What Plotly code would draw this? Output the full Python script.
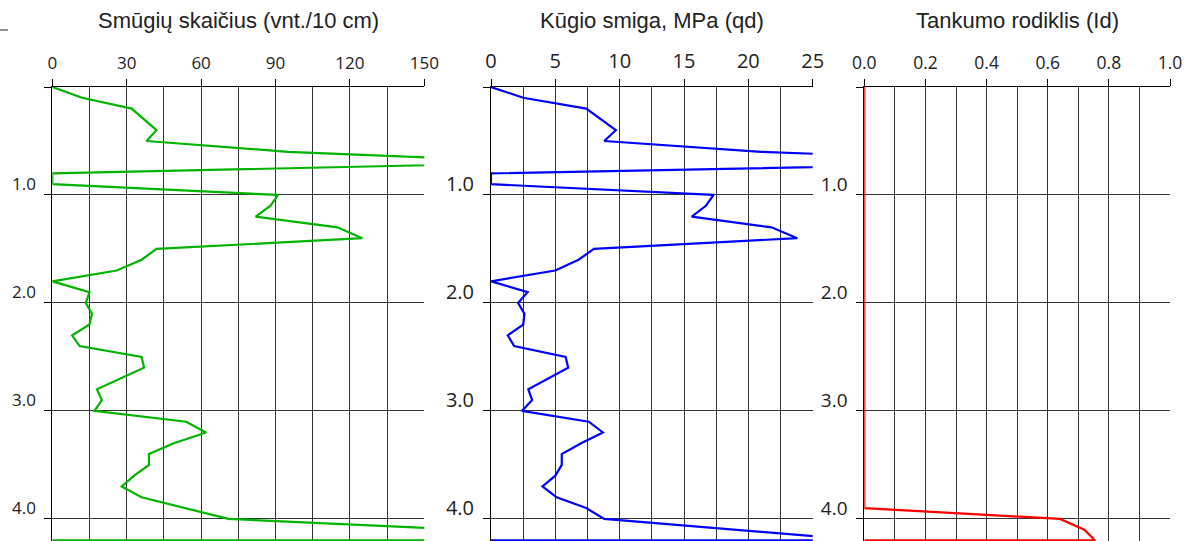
import plotly.graph_objects as go

# ---- data ----
blows_depth = [0.0, 0.1, 0.2, 0.4, 0.5, 0.6, 0.7, 0.8, 0.9, 1.0, 1.1, 1.2, 1.3, 1.4, 1.5, 1.6, 1.7,
               1.8, 1.9, 2.0, 2.1, 2.2, 2.3, 2.4, 2.5, 2.6, 2.8, 2.9, 3.0, 3.1, 3.2, 3.3, 3.4,
               3.5, 3.6, 3.7, 3.8, 4.0, 4.1, 4.2, 4.2]
blows = [0, 12, 32, 42, 38, 95, 200, 0, 0, 91, 88, 82, 115, 125, 42, 36, 26,
         0, 15, 13.5, 16, 15, 8, 11, 36, 37, 18, 20, 17, 54, 62, 49, 39,
         39, 33, 28, 36, 71, 166, 230, 0]

qd_depth = [0.0, 0.1, 0.2, 0.4, 0.5, 0.6, 0.7, 0.8, 0.9, 1.0, 1.1, 1.2, 1.3, 1.4, 1.5, 1.6, 1.7,
            1.8, 1.9, 2.0, 2.1, 2.2, 2.3, 2.4, 2.5, 2.6, 2.8, 2.9, 3.0, 3.1, 3.2, 3.3, 3.4,
            3.5, 3.6, 3.7, 3.8, 3.9, 4.0, 4.1, 4.2, 4.2]
qd = [0, 2.5, 7.4, 9.7, 8.8, 21, 43, 0, 0, 17.3, 16.7, 15.6, 21.8, 23.8, 8.0, 6.8, 5.0,
      0, 2.85, 2.1, 2.6, 2.5, 1.3, 1.8, 5.8, 6.0, 2.9, 3.2, 2.4, 7.6, 8.7, 7.0, 5.5,
      5.5, 5.0, 4.0, 5.1, 7.4, 8.8, 19, 29, 0]

id_depth = [0.0, 3.9, 4.0, 4.1, 4.2, 4.2]
id_vals = [0, 0, 0.64, 0.72, 0.755, 0]

titles = ["Smūgių skaičius (vnt./10 cm)", "Kūgio smiga, MPa (qd)", "Tankumo rodiklis (Id)"]
depth_ticks = [0, 1, 2, 3, 4]
depth_labels = ["", "1.0", "2.0", "3.0", "4.0"]

W, H = 1187, 541
TOP = 87
domains = [(52.3, 424.3), (491, 812.7), (864.3, 1170)]
colors = ["#00B400", "#0000FF", "#FF0000"]
xranges = [(0, 150), (0, 25), (0, 1.0)]
xdticks = [30, 5, 0.2]
xminor = [15, 2.5, 0.1]
xfont_sizes = [17, 20, 17.5]
yfont_sizes = [17, 20, 19]
ystandoff = [5, 5, 5]
xfmt = ["", "", ".1f"]

fig = go.Figure()
series = [(blows, blows_depth), (qd, qd_depth), (id_vals, id_depth)]
grid_col = "#333333"
for i, ((xv, yv), col) in enumerate(zip(series, colors)):
    n = "" if i == 0 else str(i + 1)
    fig.add_trace(go.Scatter(x=xv, y=yv, mode="lines", line=dict(color=col, width=2.2),
                             xaxis="x" + n, yaxis="y" + n, showlegend=False, hoverinfo="skip"))
    d0, d1 = domains[i]
    fig.layout["xaxis" + n] = dict(
        domain=[d0 / W, d1 / W], range=list(xranges[i]), side="top", anchor="y" + n,
        dtick=xdticks[i], tick0=0, ticks="outside", ticklen=7, tickcolor="#000",
        showline=True, linecolor="#000", linewidth=1, showgrid=True, gridcolor=grid_col,
        gridwidth=1, zeroline=False, tickformat=xfmt[i], automargin=False,
        ticklabelstandoff=3,
        tickfont=dict(family="Open Sans", size=xfont_sizes[i], color="#222"),
        minor=dict(dtick=xminor[i], tick0=0, showgrid=True, gridcolor=grid_col, gridwidth=1, ticks=""),
        fixedrange=True, layer="below traces",
    )
    fig.layout["yaxis" + n] = dict(
        domain=[0, 1], range=[4.205, 0], anchor="x" + n, tickvals=depth_ticks, ticktext=depth_labels,
        ticks="outside", ticklen=7, tickcolor="#000", showline=True, linecolor="#000", linewidth=1,
        showgrid=True, gridcolor=grid_col, gridwidth=1, zeroline=False, automargin=False,
        tickfont=dict(family="Open Sans", size=yfont_sizes[i], color="#222"),
        ticklabelshift=11, ticklabelstandoff=ystandoff[i], fixedrange=True, layer="below traces",
    )
    fig.add_annotation(text=titles[i], xref="paper", yref="paper",
                       x=(d0 + d1) / 2 / W, y=(H - 20) / (H - TOP), xanchor="center", yanchor="middle",
                       showarrow=False, font=dict(family="Liberation Sans", size=22, color="#222"))

fig.add_shape(type="line", xref="paper", yref="paper", x0=0, x1=8 / W,
              y0=(H - 30) / (H - TOP), y1=(H - 30) / (H - TOP), line=dict(color="#222", width=1))

fig.update_layout(width=W, height=H, margin=dict(l=0, r=0, t=TOP, b=0, autoexpand=False),
                  plot_bgcolor="white", paper_bgcolor="white")
fig.write_html("out.html", config={"displayModeBar": False, "staticPlot": True},
               post_script="document.body.style.margin='0';document.body.style.overflow='hidden';")
